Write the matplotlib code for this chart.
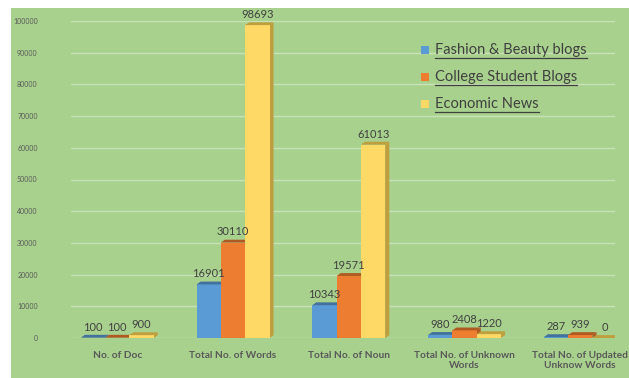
import numpy as np
import matplotlib
matplotlib.use('Agg')
import matplotlib.pyplot as plt
from matplotlib.patches import Rectangle, Polygon
from matplotlib.lines import Line2D

plt.rcParams['font.family'] = ['Lato', 'DejaVu Sans']

# data
categories = ['No. of Doc', 'Total No. of Words', 'Total No. of Noun',
              'Total No. of Unknown\nWords', 'Total No. of Updated\nUnknow Words']
series_names = ['Fashion & Beauty blogs', 'College Student Blogs', 'Economic News']
fashion = [100, 16901, 10343, 980, 287]
college = [100, 30110, 19571, 2408, 939]
economic = [900, 98693, 61013, 1220, 0]
yticks = [0, 10000, 20000, 30000, 40000, 50000, 60000, 70000, 80000, 90000, 100000]

colors = ['#5B9BD5', '#ED7D31', '#FFD966']
tops = ['#41719C', '#AE5A21', '#BF9E3D']
green = '#A9D18E'
txt = '#404040'

fig = plt.figure(figsize=(6.29, 3.78), dpi=100, facecolor='white')

# green chart area behind everything
bg = fig.add_axes([11 / 629, 0, 1 - 11 / 629, 1 - 8 / 378])
bg.set_facecolor(green)
bg.set_xticks([])
bg.set_yticks([])
for s in bg.spines.values():
    s.set_visible(False)
bg.set_zorder(0)

ax = fig.add_axes([71 / 629, 1 - 338 / 378, 544 / 629, 317 / 378])
ax.set_facecolor('none')
ax.set_zorder(1)

x = np.arange(len(categories))
w = 0.21
dx, dy = 0.035, 900
for i, vals in enumerate([fashion, college, economic]):
    pos = x + (i - 1) * w
    ax.bar(pos, vals, w, color=colors[i], zorder=3 + i, label=series_names[i])
    for p, v in zip(pos, vals):
        x0, x1 = p - w / 2, p + w / 2
        top = Polygon([(x0, v), (x0 + dx, v + dy), (x1 + dx, v + dy), (x1, v)],
                      closed=True, facecolor=tops[i], edgecolor='none', zorder=3 + i)
        ax.add_patch(top)
        side = Polygon([(x1, 0), (x1 + dx, dy), (x1 + dx, v + dy), (x1, v)],
                       closed=True, facecolor=tops[i], edgecolor='none', zorder=2.5 + i)
        ax.add_patch(side)
        ax.text(p, v + dy + 700, str(v), ha='center', va='bottom',
                fontsize=8, color=txt, zorder=10)

ax.set_xlim(-0.4, 4.3)
ax.set_ylim(0, 100000)
ax.set_yticks(yticks)
ax.set_yticklabels([str(t) for t in yticks], fontsize=5, color='#595959')
ax.set_xticks(x)
ax.set_xticklabels(categories, fontsize=7.3, fontweight='bold', color='#595959',
                   linespacing=1.25)
ax.tick_params(length=0)
ax.tick_params(axis='x', pad=9)
ax.tick_params(axis='y', pad=24)
ax.grid(axis='y', color='#C8E2B8', linewidth=1.0, zorder=1)
for s in ax.spines.values():
    s.set_visible(False)

# legend drawn by hand so the labels can be underlined
fig.canvas.draw()
renderer = fig.canvas.get_renderer()
ys = [50, 77, 104]
for name, c, yp in zip(series_names, colors, ys):
    fy = 1 - yp / 378
    sq = Rectangle((421 / 629, fy - 4 / 378), 8 / 629, 8 / 378,
                   transform=fig.transFigure, facecolor=c, edgecolor='none', zorder=5)
    fig.patches.append(sq)
    t = fig.text(435 / 629, fy, name, fontsize=10.5, color=txt, va='center', zorder=5)
    bb = t.get_window_extent(renderer).transformed(fig.transFigure.inverted())
    fig.lines.append(Line2D([bb.x0, bb.x1], [bb.y0 - 1 / 378, bb.y0 - 1 / 378],
                            transform=fig.transFigure, color=txt, linewidth=0.9,
                            zorder=5))

fig.savefig('out.png', dpi=100, facecolor=fig.get_facecolor())
